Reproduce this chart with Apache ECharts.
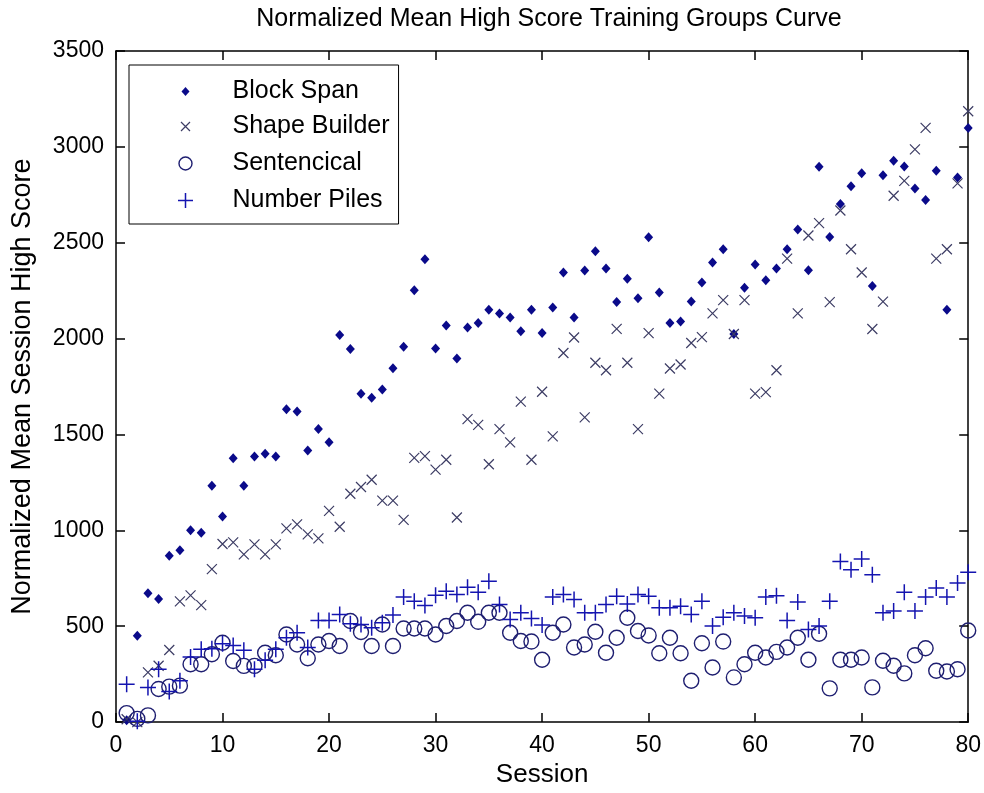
<!DOCTYPE html>
<html>
<head>
<meta charset="utf-8">
<script src="https://cdn.jsdelivr.net/npm/echarts@6/dist/echarts.min.js"></script>
<style>
html,body{margin:0;padding:0;background:#fff;}
#chart{width:984px;height:793px;}
</style>
</head>
<body>
<div id="chart"></div>
<script>
// ---- data ----
var sessions = [1,2,3,4,5,6,7,8,9,10,11,12,13,14,15,16,17,18,19,20,
  21,22,23,24,25,26,27,28,29,30,31,32,33,34,35,36,37,38,39,40,
  41,42,43,44,45,46,47,48,49,50,51,52,53,54,55,56,57,58,59,60,
  61,62,63,64,65,66,67,68,69,70,71,72,73,74,75,76,77,78,79,80];

var blockSpan = [10,450,672,642,867,896,1000,988,1233,1072,
  1376,1233,1385,1399,1385,1632,1620,1416,1528,1459,
  2019,1946,1713,1692,1734,1846,1957,2252,2414,1948,
  2068,1896,2058,2082,2150,2131,2110,2039,2150,2029,
  2162,2345,2110,2355,2455,2366,2191,2312,2210,2528,
  2241,2081,2089,2193,2293,2397,2466,2024,2265,2386,
  2305,2366,2466,2569,2357,2896,2530,2702,2794,2863,
  2274,2852,2927,2897,2783,2723,2875,2150,2840,3099];

var shapeBuilder = [15,0,259,294,376,630,661,610,798,929,
  937,875,927,875,927,1010,1031,979,958,1102,
  1019,1191,1226,1264,1155,1155,1055,1378,1387,1317,
  1368,1067,1580,1550,1345,1528,1459,1671,1368,1723,
  1490,1925,2006,1589,1874,1835,2051,1874,1528,2029,
  1713,1844,1865,1977,2008,2132,2201,2024,2201,1713,
  1721,1835,2417,2132,2538,2602,2190,2668,2466,2345,
  2050,2193,2745,2823,2987,3099,2417,2466,2810,3186];

var sentencical = [47,17,35,173,185,190,302,302,354,414,
  319,293,293,362,349,457,405,333,405,423,
  397,527,470,397,509,397,488,488,488,457,
  501,527,570,523,570,570,466,423,420,325,
  466,509,389,405,471,362,440,544,475,452,
  359,440,359,216,411,285,420,233,302,362,
  337,366,389,440,325,461,176,325,325,337,
  181,320,294,254,349,385,268,264,276,478];

var numberPiles = [198,5,181,276,159,216,340,380,383,409,
  400,375,276,323,380,440,466,389,530,530,
  561,513,509,492,518,558,653,630,608,661,
  682,665,703,677,734,613,535,570,540,506,
  653,665,639,570,570,613,656,616,665,656,
  596,596,604,561,630,501,547,570,553,544,
  653,659,530,627,483,501,630,838,794,850,
  768,570,580,677,579,653,699,653,725,782];

var seriesNames = ['Block Span','Shape Builder','Sentencical','Number Piles'];
var xTicks = {min:0, max:80, interval:10};
var yTicks = {min:0, max:3500, interval:500};
var titleText = 'Normalized Mean High Score Training Groups Curve';
var xName = 'Session';
var yName = 'Normalized Mean Session High Score';

// ---- chart ----
function pairs(vals){ return sessions.map(function(s,i){ return [s, vals[i]]; }); }
function plain(v){ return String(v); }

var FONT = '"Liberation Sans", Arial, Helvetica, sans-serif';
var chart = echarts.init(document.getElementById('chart'), null, {renderer:'canvas'});

var axisCommon = {
  axisLine:{show:true, onZero:false, lineStyle:{color:'#000', width:1.5}},
  axisTick:{show:true, inside:true, length:9, lineStyle:{color:'#000', width:1.5}},
  splitLine:{show:false}
};

var X_PATH = 'path://M-1,-1L1,1M1,-1L-1,1';
var P_PATH = 'path://M-1,0L1,0M0,-1L0,1';
var C_PATH = 'path://M1,0A1,1 0 1,1 -1,0A1,1 0 1,1 1,0Z';

var colBlock = '#0a0a8a', colShape = '#3c3c64', colSent = '#1e1e70', colNum = '#1414b0';

var option = {
  backgroundColor:'#ffffff',
  animation:false,
  textStyle:{fontFamily:FONT},
  graphic:[{
    type:'text', x:549, y:19, z:10,
    style:{text:titleText, fontSize:25, fontFamily:FONT, fill:'#000', align:'center', verticalAlign:'middle'}
  }],
  grid:{left:116, right:14, top:51, bottom:68, containLabel:false},
  xAxis:[
    Object.assign({type:'value', position:'bottom', min:xTicks.min, max:xTicks.max, interval:xTicks.interval,
      name:xName, nameLocation:'middle', nameGap:39,
      nameTextStyle:{fontSize:26, color:'#000', fontFamily:FONT},
      axisLabel:{show:true, fontSize:23, color:'#000', margin:12, fontFamily:FONT, formatter:plain}}, axisCommon),
    Object.assign({type:'value', position:'top', min:xTicks.min, max:xTicks.max, interval:xTicks.interval,
      axisLabel:{show:false}}, axisCommon)
  ],
  yAxis:[
    Object.assign({type:'value', position:'left', min:yTicks.min, max:yTicks.max, interval:yTicks.interval,
      name:yName, nameLocation:'middle', nameGap:80,
      nameTextStyle:{fontSize:27, color:'#000', fontFamily:FONT},
      axisLabel:{show:true, fontSize:23, color:'#000', margin:12, fontFamily:FONT, formatter:plain}}, axisCommon),
    Object.assign({type:'value', position:'right', min:yTicks.min, max:yTicks.max, interval:yTicks.interval,
      axisLabel:{show:false}}, axisCommon)
  ],
  legend:{
    show:true, orient:'vertical', left:129, top:65,
    padding:[14,9,9,42], itemGap:8, itemWidth:84, itemHeight:24,
    backgroundColor:'#fff', borderColor:'#000', borderWidth:1, borderRadius:0,
    textStyle:{fontSize:25, color:'#000', fontFamily:FONT},
    selectedMode:false,
    data:[
      {name:seriesNames[0], icon:'path://M-12,-12M12,12M0,-4.5L4,0L0,4.5L-4,0Z', itemStyle:{color:colBlock, borderWidth:0}},
      {name:seriesNames[1], icon:'path://M-12,-12M12,12M-4.5,-4.5L4.5,4.5M4.5,-4.5L-4.5,4.5', itemStyle:{color:'none', borderColor:colShape, borderWidth:1.2}},
      {name:seriesNames[2], icon:'path://M-12,-12M12,12M6.5,0A6.5,6.5 0 1,1 -6.5,0A6.5,6.5 0 1,1 6.5,0Z', itemStyle:{color:'none', borderColor:colSent, borderWidth:1.4}},
      {name:seriesNames[3], icon:'path://M-12,-12M12,12M-7.5,0L7.5,0M0,-7.5L0,7.5', itemStyle:{color:'none', borderColor:colNum, borderWidth:1.5}}
    ]
  },
  series:[
    {name:seriesNames[0], type:'scatter', xAxisIndex:0, yAxisIndex:0, symbol:'diamond', symbolSize:[9,10],
     itemStyle:{color:colBlock, borderWidth:0, opacity:1}, emphasis:{disabled:true}, data:pairs(blockSpan), z:2},
    {name:seriesNames[1], type:'scatter', xAxisIndex:0, yAxisIndex:0, symbol:X_PATH, symbolSize:10,
     itemStyle:{color:'none', borderColor:colShape, borderWidth:1.2, opacity:1}, emphasis:{disabled:true}, data:pairs(shapeBuilder), z:3},
    {name:seriesNames[2], type:'scatter', xAxisIndex:0, yAxisIndex:0, symbol:C_PATH, symbolSize:15,
     itemStyle:{color:'none', borderColor:colSent, borderWidth:1.4, opacity:1}, emphasis:{disabled:true}, data:pairs(sentencical), z:4},
    {name:seriesNames[3], type:'scatter', xAxisIndex:0, yAxisIndex:0, symbol:P_PATH, symbolSize:16,
     itemStyle:{color:'none', borderColor:colNum, borderWidth:1.5, opacity:1}, emphasis:{disabled:true}, data:pairs(numberPiles), z:5}
  ]
};
chart.setOption(option);
</script>
</body>
</html>
